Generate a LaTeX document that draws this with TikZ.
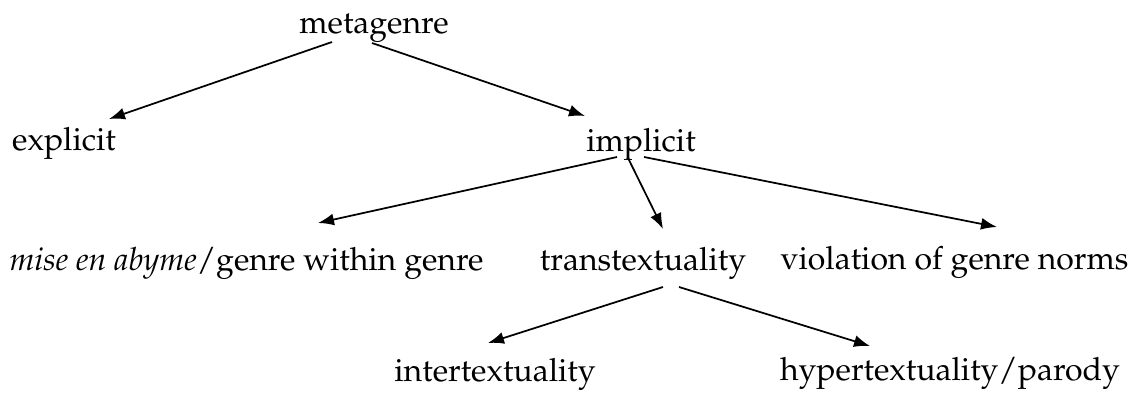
\documentclass[tikz,border=0pt]{standalone}
\usepackage[T1]{fontenc}
\usepackage{mathpazo}
\usetikzlibrary{arrows.meta}

\tikzset{
  term/.style={inner sep=0pt, outer sep=0pt, anchor=base,
               font=\fontsize{24}{28}\selectfont},
  arr/.style={line width=1.3pt, -{Latex[length=12pt,width=9pt]}}
}

\begin{document}
\begin{tikzpicture}[x=0.75pt, y=-0.75pt]
  \useasboundingbox (0,0) rectangle (1131,396);

  % taxonomy terms
  \node[term] (meta)     at (374,33)    {metagenre};
  \node[term] (explicit) at (64,150)    {explicit};
  \node[term] (implicit) at (641,151)   {implicit};
  \node[term] (mise)     at (246.5,270) {\textit{mise en abyme}/genre within genre};
  \node[term] (trans)    at (643,270)   {transtextuality};
  \node[term] (viol)     at (954.5,269) {violation of genre norms};
  \node[term] (inter)    at (495,381)   {intertextuality};
  \node[term] (hyper)    at (950,380)   {hypertextuality/parody};

  % branches
  \draw[arr] ([shift={(-42,9)}]meta.base)    -- ([shift={(45,-31)}]explicit.base);
  \draw[arr] ([shift={(-2,10)}]meta.base)    -- ([shift={(-56,-35)}]implicit.base);
  \draw[arr] ([shift={(-24,6)}]implicit.base) -- ([shift={(71.5,-47)}]mise.base);
  \draw[arr] ([shift={(-13,7)}]implicit.base) -- ([shift={(20,-41)}]trans.base);
  \draw[arr] ([shift={(3,6)}]implicit.base)   -- ([shift={(42.5,-42)}]viol.base);
  \draw[arr] ([shift={(20,17)}]trans.base)    -- ([shift={(-7,-38)}]inter.base);
  \draw[arr] ([shift={(36,17)}]trans.base)    -- ([shift={(-80,-34)}]hyper.base);
\end{tikzpicture}
\end{document}
